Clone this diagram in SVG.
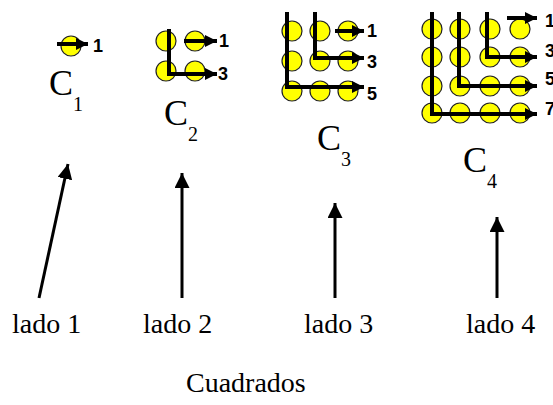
<svg xmlns="http://www.w3.org/2000/svg" width="553" height="405" viewBox="0 0 553 405">
  <style>
    .dot { fill: #FFFF00; stroke: #222; stroke-width: 1.2; }
    .path { fill: none; stroke: #000; stroke-width: 4; }
    .num { font-family: "Liberation Sans", Arial, sans-serif; font-weight: bold; font-size: 18px; fill: #000; }
    .cap { font-family: "Liberation Serif", "Times New Roman", serif; font-size: 36px; fill: #000; }
    .sub { font-family: "Liberation Serif", "Times New Roman", serif; font-size: 20px; fill: #000; }
    .lbl { font-family: "Liberation Serif", "Times New Roman", serif; font-size: 28px; fill: #000; }
    .ptr { stroke: #000; stroke-width: 3; fill: none; }
  </style>
  <defs>
    <marker id="tip" viewBox="0 0 10 10" refX="10" refY="5" markerWidth="3" markerHeight="3" markerUnits="strokeWidth" orient="auto">
      <path d="M0,0 L10,5 L0,10 Z" fill="#000"/>
    </marker>
    <marker id="bigtip" viewBox="0 0 10 10" refX="10" refY="5" markerWidth="5" markerHeight="5" markerUnits="strokeWidth" orient="auto">
      <path d="M0,0 L10,5 L0,10 Z" fill="#000"/>
    </marker>
  </defs>

  <!-- C1: one dot -->
  <g id="c1">
    <circle class="dot" cx="71" cy="46" r="10"/>
    <path class="path" d="M57,44 H88" marker-end="url(#tip)"/>
    <text class="num" x="93" y="52">1</text>
    <text class="cap" x="49" y="95">C</text>
    <text class="sub" x="73" y="111">1</text>
  </g>

  <!-- C2: 2x2 dots -->
  <g id="c2">
    <circle class="dot" cx="166" cy="41" r="10"/>
    <circle class="dot" cx="195" cy="41" r="10"/>
    <circle class="dot" cx="166" cy="71" r="10"/>
    <circle class="dot" cx="195" cy="71" r="10"/>
    <path class="path" d="M184,41 H217" marker-end="url(#tip)"/>
    <path class="path" d="M169,29 V74 H217" marker-end="url(#tip)"/>
    <text class="num" x="219" y="47">1</text>
    <text class="num" x="218" y="80">3</text>
    <text class="cap" x="164" y="125">C</text>
    <text class="sub" x="188" y="141">2</text>
  </g>

  <!-- C3: 3x3 dots -->
  <g id="c3">
    <circle class="dot" cx="292" cy="31" r="10"/>
    <circle class="dot" cx="320" cy="31" r="10"/>
    <circle class="dot" cx="348" cy="31" r="10"/>
    <circle class="dot" cx="292" cy="61" r="10"/>
    <circle class="dot" cx="320" cy="61" r="10"/>
    <circle class="dot" cx="348" cy="61" r="10"/>
    <circle class="dot" cx="292" cy="91" r="10"/>
    <circle class="dot" cx="320" cy="91" r="10"/>
    <circle class="dot" cx="348" cy="91" r="10"/>
    <path class="path" d="M335,31 H364" marker-end="url(#tip)"/>
    <path class="path" d="M315,12 V58 H364" marker-end="url(#tip)"/>
    <path class="path" d="M287,12 V87 H364" marker-end="url(#tip)"/>
    <text class="num" x="367" y="37">1</text>
    <text class="num" x="367" y="68">3</text>
    <text class="num" x="367" y="100">5</text>
    <text class="cap" x="317" y="150">C</text>
    <text class="sub" x="341" y="166">3</text>
  </g>

  <!-- C4: 4x4 dots -->
  <g id="c4">
    <g>
      <circle class="dot" cx="432" cy="29" r="10"/>
      <circle class="dot" cx="460" cy="29" r="10"/>
      <circle class="dot" cx="490" cy="29" r="10"/>
      <circle class="dot" cx="520" cy="29" r="10"/>
      <circle class="dot" cx="432" cy="57" r="10"/>
      <circle class="dot" cx="460" cy="57" r="10"/>
      <circle class="dot" cx="490" cy="57" r="10"/>
      <circle class="dot" cx="520" cy="57" r="10"/>
      <circle class="dot" cx="432" cy="86" r="10"/>
      <circle class="dot" cx="460" cy="86" r="10"/>
      <circle class="dot" cx="490" cy="86" r="10"/>
      <circle class="dot" cx="520" cy="86" r="10"/>
      <circle class="dot" cx="432" cy="113" r="10"/>
      <circle class="dot" cx="460" cy="113" r="10"/>
      <circle class="dot" cx="490" cy="113" r="10"/>
      <circle class="dot" cx="520" cy="113" r="10"/>
    </g>
    <path class="path" d="M507,18 H537" marker-end="url(#tip)"/>
    <path class="path" d="M487,12 V57 H537" marker-end="url(#tip)"/>
    <path class="path" d="M459,12 V86 H537" marker-end="url(#tip)"/>
    <path class="path" d="M432,12 V114 H537" marker-end="url(#tip)"/>
    <text class="num" x="545" y="27">1</text>
    <text class="num" x="545" y="57">3</text>
    <text class="num" x="545" y="85">5</text>
    <text class="num" x="545" y="115">7</text>
    <text class="cap" x="463" y="172">C</text>
    <text class="sub" x="487" y="188">4</text>
  </g>

  <!-- side labels -->
  <g id="lado1"><text class="lbl" x="12" y="333">lado 1</text></g>
  <g id="lado2"><text class="lbl" x="143" y="333">lado 2</text></g>
  <g id="lado3"><text class="lbl" x="304" y="333">lado 3</text></g>
  <g id="lado4"><text class="lbl" x="466" y="333">lado 4</text></g>
  <g id="titulo"><text class="lbl" x="186" y="392">Cuadrados</text></g>

  <!-- pointers from each side label up to its square -->
  <g id="connectors">
    <path class="ptr" d="M39,298 L68,164" marker-end="url(#bigtip)"/>
    <path class="ptr" d="M182,298 V173" marker-end="url(#bigtip)"/>
    <path class="ptr" d="M335,298 V203" marker-end="url(#bigtip)"/>
    <path class="ptr" d="M497,298 V217" marker-end="url(#bigtip)"/>
  </g>
</svg>
